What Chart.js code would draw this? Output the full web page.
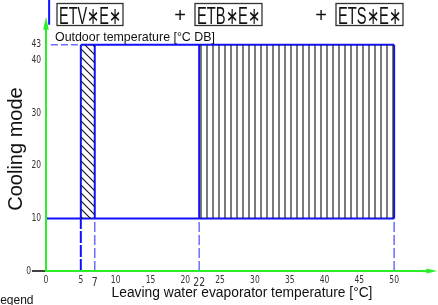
<!DOCTYPE html>
<html>
<head>
<meta charset="utf-8">
<script src="https://cdn.jsdelivr.net/npm/chart.js@4.4.1/dist/chart.umd.min.js"></script>
<style>
  html, body { margin: 0; padding: 0; background: #fff; }
  canvas { display: block; }
</style>
</head>
<body>
<canvas id="myChart" width="438" height="305"></canvas>
<script>
// tick labels
var xTicks = [0, 5, 7, 10, 15, 20, 22, 25, 30, 35, 40, 45, 50];
var yTicks = [0, 10, 20, 30, 40, 43];
var bigXTicks = [7, 22];

// operating envelope (water temp on x, outdoor temp on y)
var waterMin = 5;
var waterGlycol = 7;
var waterSplit = 22;
var waterMax = 50;
var outdoorMin = 10;
var outdoorMax = 43;

var titles = ['ETV\u2217E\u2217', 'ETB\u2217E\u2217', 'ETS\u2217E\u2217'];

var BLUE = '#1010ff';
var LIGHTBLUE = 'rgba(60,60,255,0.75)';
var GREEN = '#2aee2a';
var NARROW = "'Liberation Sans Narrow', 'DejaVu Sans Condensed', sans-serif";
var SANS = "'Liberation Sans', Arial, sans-serif";

function makePattern(kind) {
  var c = document.createElement('canvas');
  var g = c.getContext('2d');
  if (kind === 'diag') {
    c.width = 8; c.height = 8;
    g.strokeStyle = '#111';
    g.lineWidth = 1.1;
    g.beginPath();
    g.moveTo(-2, -2); g.lineTo(10, 10);
    g.moveTo(-2, 6); g.lineTo(2, 10);
    g.moveTo(6, -2); g.lineTo(10, 2);
    g.stroke();
  } else {
    c.width = 6; c.height = 6;
    g.strokeStyle = '#222';
    g.lineWidth = 1.2;
    g.beginPath();
    g.moveTo(3, 0); g.lineTo(3, 6);
    g.stroke();
  }
  return g.createPattern(c, 'repeat');
}

function seg(data, color, width, dash) {
  return {
    data: data,
    showLine: true,
    borderColor: color,
    borderWidth: width,
    borderDash: dash || [],
    pointRadius: 0,
    fill: false
  };
}

function area(x0, x1, pattern) {
  return {
    data: [{ x: x0, y: outdoorMax }, { x: x1, y: outdoorMax }],
    showLine: true,
    borderWidth: 0,
    borderColor: 'transparent',
    backgroundColor: pattern,
    pointRadius: 0,
    fill: { value: outdoorMin }
  };
}

var datasets = [
  area(waterMin, waterGlycol, makePattern('diag')),
  area(waterSplit, waterMax, makePattern('vert')),
  // envelope
  seg([{ x: 0.7, y: outdoorMax }, { x: waterMin, y: outdoorMax }], LIGHTBLUE, 1.5, [7, 3]),
  seg([{ x: waterMin, y: outdoorMax }, { x: waterMax, y: outdoorMax }], BLUE, 2),
  seg([{ x: 0, y: outdoorMin }, { x: waterMax, y: outdoorMin }], BLUE, 2),
  seg([{ x: waterMin, y: outdoorMin }, { x: waterMin, y: outdoorMax }], BLUE, 2),
  seg([{ x: waterGlycol, y: outdoorMin }, { x: waterGlycol, y: outdoorMax }], BLUE, 2),
  seg([{ x: waterSplit, y: outdoorMin }, { x: waterSplit, y: outdoorMax }], BLUE, 2),
  seg([{ x: waterMax, y: outdoorMin }, { x: waterMax, y: outdoorMax }], BLUE, 2),
  // drop lines to the axis
  seg([{ x: waterMin, y: 0 }, { x: waterMin, y: outdoorMin }], BLUE, 2, [12, 2]),
  seg([{ x: waterGlycol, y: 0 }, { x: waterGlycol, y: outdoorMin }], LIGHTBLUE, 1.5, [10, 3]),
  seg([{ x: waterSplit, y: 0 }, { x: waterSplit, y: outdoorMin }], LIGHTBLUE, 1.5, [10, 3]),
  seg([{ x: waterMax, y: 0 }, { x: waterMax, y: outdoorMin }], LIGHTBLUE, 1.5, [10, 3]),
  // stray line at top left
  seg([{ x: 0.45, y: 46.8 }, { x: 0.45, y: 51.5 }], BLUE, 2)
];

var decor = {
  id: 'decor',
  afterDraw: function (chart) {
    var ctx = chart.ctx;
    var xs = chart.scales.x, ys = chart.scales.y;
    var x0 = xs.getPixelForValue(0), y0 = ys.getPixelForValue(0);
    ctx.save();

    // green axes with arrows
    var yTip = ys.getPixelForValue(48.3);
    var xTip = xs.getPixelForValue(56.2);
    ctx.strokeStyle = GREEN;
    ctx.fillStyle = GREEN;
    ctx.lineWidth = 2;
    ctx.beginPath();
    ctx.moveTo(x0, y0 + 1); ctx.lineTo(x0, yTip + 6);
    ctx.moveTo(x0 - 1, y0); ctx.lineTo(xTip - 6, y0);
    ctx.stroke();
    ctx.beginPath();
    ctx.moveTo(x0, yTip); ctx.lineTo(x0 - 2.8, yTip + 13); ctx.lineTo(x0 + 2.8, yTip + 13); ctx.closePath();
    ctx.fill();
    ctx.beginPath();
    ctx.moveTo(xTip, y0); ctx.lineTo(xTip - 11, y0 - 2.5); ctx.lineTo(xTip - 11, y0 + 2.5); ctx.closePath();
    ctx.fill();

    // black tick at origin
    ctx.strokeStyle = '#000';
    ctx.lineWidth = 1.5;
    ctx.beginPath();
    ctx.moveTo(x0 - 14, y0); ctx.lineTo(x0 - 1, y0);
    ctx.stroke();

    // tick labels (condensed)
    ctx.fillStyle = '#333';
    ctx.textBaseline = 'middle';
    function narrow(text, x, y, size, align) {
      ctx.save();
      ctx.font = size + 'px ' + NARROW;
      ctx.textAlign = align;
      ctx.translate(x, y);
      ctx.scale(0.8, 1);
      ctx.fillText(text, 0, 0);
      ctx.restore();
    }
    xTicks.forEach(function (v) {
      var big = bigXTicks.indexOf(v) >= 0;
      var px = xs.getPixelForValue(v);
      narrow(String(v), px, big ? y0 + 12 : y0 + 9, big ? 13 : 10.5, 'center');
    });
    yTicks.forEach(function (v) {
      var py = ys.getPixelForValue(v);
      narrow(String(v), v === 0 ? x0 - 15 : x0 - 5, py, 10.5, 'right');
    });

    // texts
    ctx.fillStyle = '#111';
    ctx.textAlign = 'left';
    ctx.textBaseline = 'alphabetic';
    ctx.font = '12.4px ' + SANS;
    ctx.fillText('Outdoor temperature [\u00B0C DB]', 55, 40.5);
    ctx.font = '12px ' + SANS;
    ctx.fillText('Legend', -6.5, 304);

    ctx.save();
    ctx.translate(22, 149);
    ctx.rotate(-Math.PI / 2);
    ctx.textAlign = 'center';
    ctx.font = '20px ' + SANS;
    ctx.fillText('Cooling mode', 0, 0);
    ctx.restore();

    // boxed model names
    var boxes = [[57, 123], [195, 262], [336, 403]];
    ctx.font = '24px ' + SANS;
    titles.forEach(function (t, i) {
      var b = boxes[i];
      var w = ctx.measureText(t).width;
      var k = (b[1] - b[0] - 4) / w;
      ctx.save();
      ctx.translate(b[0] + 2, 23.5);
      ctx.scale(k, 1);
      ctx.fillText(t, 0, 0);
      ctx.restore();
      ctx.strokeStyle = '#333';
      ctx.lineWidth = 1.3;
      ctx.strokeRect(b[0], 3.5, b[1] - b[0], 22);
    });
    ctx.font = '20px ' + SANS;
    ctx.textAlign = 'center';
    ctx.fillText('+', 180, 22);
    ctx.fillText('+', 321, 22);

    ctx.restore();
  }
};

var myChart = new Chart(document.getElementById('myChart'), {
  type: 'scatter',
  data: { datasets: datasets },
  options: {
    responsive: false,
    animation: false,
    devicePixelRatio: 1,
    layout: { padding: 0 },
    plugins: { legend: { display: false }, tooltip: { enabled: false } },
    scales: {
      x: {
        type: 'linear',
        min: 0,
        max: 56.3,
        grid: { display: false },
        border: { display: false },
        ticks: { display: false },
        title: {
          display: true,
          text: 'Leaving water evaporator temperature [\u00B0C]',
          color: '#111',
          font: { family: SANS, size: 13.8 },
          padding: { top: 0, bottom: 4 }
        },
        afterFit: function (s) { s.height = 34; }
      },
      y: {
        type: 'linear',
        min: 0,
        max: 51.5,
        grid: { display: false },
        border: { display: false },
        ticks: { display: false },
        afterFit: function (s) { s.width = 46; }
      }
    }
  },
  plugins: [decor]
});
</script>
</body>
</html>
